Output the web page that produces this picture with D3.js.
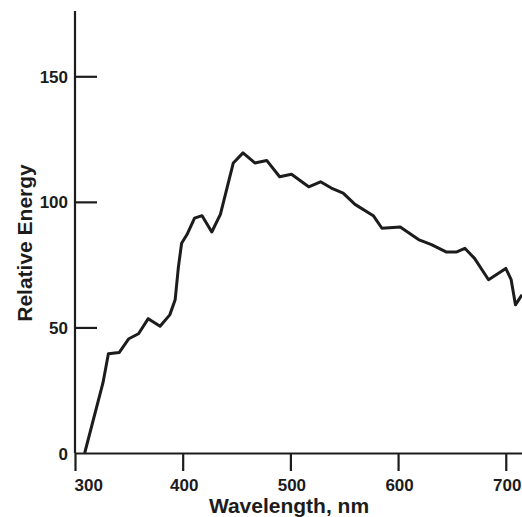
<!DOCTYPE html>
<meta charset="utf-8">
<style>
body { margin: 0; background: #fff; }
svg { font-family: "Liberation Sans", Arial, sans-serif; font-weight: bold; }
.axis path, .axis line { stroke: #1c1c1c; stroke-width: 2.2px; }
.axis text { fill: #1c1c1c; font-size: 17px; font-weight: bold; }
.label { fill: #1c1c1c; font-size: 21px; }
.curve { fill: none; stroke: #1c1c1c; stroke-width: 3px; stroke-linejoin: round; }
</style>
<body>
<script src="https://d3js.org/d3.v7.min.js"></script>
<script>
var w = 522,
    h = 517;

// spectral curve
var wavelength = [309, 326, 331, 341, 350, 359, 368, 379, 388, 393, 396, 399, 404, 411, 418, 427, 435,
                  447, 456, 467, 478, 490, 501, 517, 528, 538, 549, 560, 577, 585, 602, 619, 631,
                  645, 654, 662, 671, 684, 700, 705, 709, 715];
var energy = [0, 28, 39.5, 40, 45.5, 47.5, 53.5, 50.5, 55, 61, 74, 83.5, 87, 93.5, 94.5, 88, 95,
              115.5, 119.5, 115.5, 116.5, 110, 111, 106, 108, 105.5, 103.5, 99, 94.5, 89.5, 90, 85, 83,
              80, 80, 81.5, 77.5, 69, 73.5, 69, 59, 63];
var xTicks = [300, 400, 500, 600, 700],
    yTicks = [0, 50, 100, 150];

var data = wavelength.map(function(d, i) { return {x: d, y: energy[i]}; });

var x = d3.scaleLinear().domain([300, 716]).range([75, 523]),
    y = d3.scaleLinear().domain([0, 176]).range([453, 11]);

var svg = d3.select("body").append("svg")
    .attr("width", w)
    .attr("height", h);

/* x axis */
var gx = svg.append("g")
    .attr("class", "axis")
    .attr("transform", "translate(0," + y(0) + ")")
    .call(d3.axisBottom(x).tickValues(xTicks).tickSize(18).tickSizeOuter(0).tickPadding(8));
gx.selectAll(".tick text")
    .attr("text-anchor", function(d) { return d === 300 ? "start" : "middle"; })
    .attr("dx", function(d) { return d === 300 ? -1 : 1; });

/* y axis, ticks pointing inside */
var gy = svg.append("g")
    .attr("class", "axis")
    .attr("transform", "translate(" + x(300) + ",0)")
    .call(d3.axisLeft(y).tickValues(yTicks).tickSize(-22).tickSizeOuter(0).tickPadding(7));
gy.select(".domain").attr("d", "M0," + y(176) + "V" + y(0));
gy.selectAll(".tick text").attr("dy", "0.36em");
gy.selectAll(".tick").filter(function(d) { return d === 0; }).select("line").remove();

/* curve */
svg.append("path")
    .datum(data)
    .attr("class", "curve")
    .attr("d", d3.line().x(function(d) { return x(d.x); }).y(function(d) { return y(d.y); }));

/* labels */
svg.append("text")
    .attr("class", "label")
    .attr("x", 289)
    .attr("y", 513)
    .attr("text-anchor", "middle")
    .text("Wavelength, nm");

svg.append("text")
    .attr("class", "label")
    .attr("transform", "translate(32,243) rotate(-90)")
    .attr("text-anchor", "middle")
    .text("Relative Energy");
</script>
